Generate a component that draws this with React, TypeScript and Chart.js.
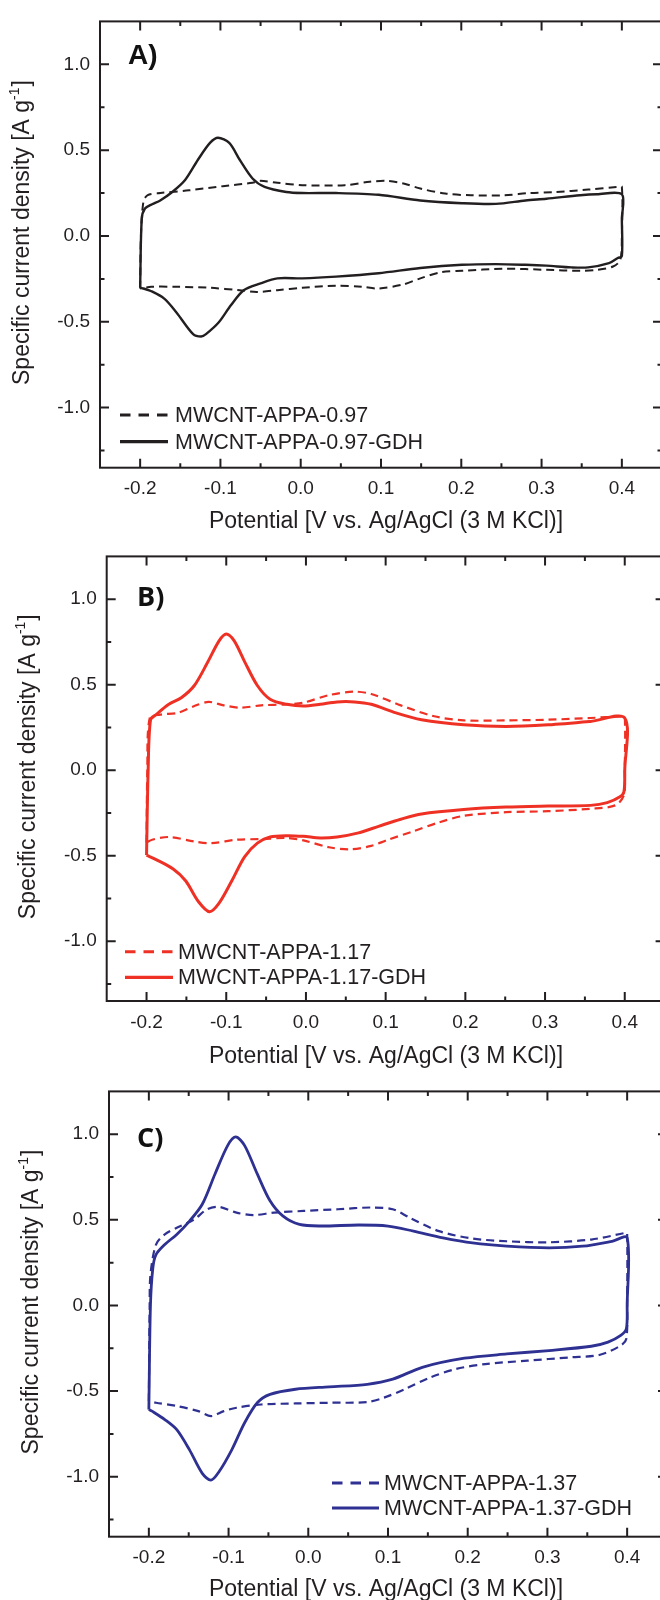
import React, { useEffect, useRef } from "react";
import { Chart, registerables } from "chart.js";
Chart.register(...registerables);

// ---------- axes ----------
const X_MIN = -0.25;
const X_MAX = 0.45;
const Y_MIN = -1.35;
const Y_MAX = 1.25;
const X_MAJOR = [-0.2, -0.1, 0.0, 0.1, 0.2, 0.3, 0.4];
const X_MINOR = [-0.15, -0.05, 0.05, 0.15, 0.25, 0.35];
const Y_MAJOR = [-1.0, -0.5, 0.0, 0.5, 1.0];
const Y_MINOR = [-1.25, -0.75, -0.25, 0.25, 0.75];
const X_TITLE = "Potential [V vs. Ag/AgCl (3 M KCl)]";
const Y_TITLE = "Specific current density [A g";
const Y_TITLE_SUP = "-1";
const Y_TITLE_END = "]";

// ---------- panel A (MWCNT-APPA-0.97) ----------
const A_BARE_LABEL = "MWCNT-APPA-0.97";
const A_BARE_X = [-0.2, -0.199, -0.196, -0.191, -0.175, -0.139, -0.097, -0.06, -0.05, -0.029, 0.002, 0.055, 0.086, 0.107, 0.128, 0.149, 0.18, 0.212, 0.253, 0.285, 0.316, 0.358, 0.395, 0.4,
  0.4, 0.398, 0.389, 0.369, 0.348, 0.306, 0.253, 0.201, 0.175, 0.149, 0.128, 0.097, 0.076, 0.044, 0.002, -0.029, -0.055, -0.076, -0.113, -0.155, -0.186, -0.2];
const A_BARE_Y = [-0.306, 0.0, 0.197, 0.237, 0.25, 0.266, 0.29, 0.31, 0.321, 0.31, 0.296, 0.296, 0.316, 0.321, 0.306, 0.276, 0.247, 0.237, 0.237, 0.25, 0.256, 0.27, 0.286, 0.286,
  0.0, -0.14, -0.178, -0.197, -0.203, -0.197, -0.191, -0.203, -0.211, -0.247, -0.282, -0.306, -0.296, -0.29, -0.302, -0.316, -0.326, -0.316, -0.302, -0.296, -0.296, -0.306];
const A_GDH_LABEL = "MWCNT-APPA-0.97-GDH";
const A_GDH_X = [-0.2, -0.198, -0.194, -0.185, -0.175, -0.16, -0.144, -0.128, -0.113, -0.103, -0.089, -0.076, -0.06, -0.045, -0.018, 0.002, 0.044, 0.097, 0.149, 0.201, 0.243, 0.28, 0.306, 0.348, 0.369, 0.4,
  0.4, 0.4, 0.395, 0.384, 0.358, 0.337, 0.306, 0.28, 0.243, 0.201, 0.149, 0.097, 0.044, 0.002, -0.029, -0.05, -0.071, -0.087, -0.102, -0.118, -0.124, -0.134, -0.155, -0.17, -0.186, -0.196, -0.2];
const A_GDH_Y = [-0.3, 0.1, 0.16, 0.185, 0.207, 0.256, 0.326, 0.444, 0.542, 0.572, 0.542, 0.444, 0.335, 0.286, 0.256, 0.25, 0.25, 0.24, 0.207, 0.191, 0.187, 0.207, 0.217, 0.237, 0.243, 0.243,
  0.1, -0.118, -0.128, -0.158, -0.183, -0.183, -0.173, -0.168, -0.164, -0.168, -0.187, -0.217, -0.237, -0.247, -0.247, -0.276, -0.316, -0.404, -0.503, -0.572, -0.586, -0.572, -0.444, -0.365, -0.322, -0.306, -0.3];

// ---------- panel B (MWCNT-APPA-1.17) ----------
const B_BARE_LABEL = "MWCNT-APPA-1.17";
const B_BARE_X = [-0.2, -0.199, -0.196, -0.183, -0.161, -0.14, -0.122, -0.103, -0.082, -0.056, -0.024, -0.003, 0.029, 0.061, 0.082, 0.119, 0.161, 0.198, 0.251, 0.304, 0.357, 0.396, 0.4,
  0.4, 0.399, 0.388, 0.357, 0.304, 0.251, 0.198, 0.166, 0.135, 0.103, 0.082, 0.055, 0.029, -0.003, -0.024, -0.056, -0.087, -0.119, -0.14, -0.172, -0.193, -0.2];
const B_BARE_Y = [-0.423, 0.0, 0.305, 0.325, 0.335, 0.375, 0.399, 0.379, 0.365, 0.379, 0.385, 0.395, 0.439, 0.459, 0.445, 0.379, 0.315, 0.291, 0.291, 0.295, 0.305, 0.315, 0.315,
  0.0, -0.146, -0.206, -0.226, -0.24, -0.246, -0.267, -0.307, -0.357, -0.407, -0.443, -0.463, -0.451, -0.411, -0.397, -0.403, -0.407, -0.427, -0.417, -0.391, -0.407, -0.423];
const B_GDH_LABEL = "MWCNT-APPA-1.17-GDH";
const B_GDH_X = [-0.2, -0.198, -0.195, -0.188, -0.172, -0.156, -0.14, -0.124, -0.109, -0.1, -0.09, -0.077, -0.061, -0.045, -0.024, -0.003, 0.018, 0.039, 0.061, 0.082, 0.113, 0.145, 0.198, 0.251, 0.304, 0.357, 0.4,
  0.4, 0.399, 0.394, 0.378, 0.357, 0.304, 0.251, 0.198, 0.145, 0.119, 0.092, 0.066, 0.039, 0.018, -0.003, -0.024, -0.045, -0.061, -0.077, -0.093, -0.109, -0.121, -0.135, -0.151, -0.167, -0.188, -0.2];
const B_GDH_Y = [-0.497, 0.0, 0.295, 0.325, 0.385, 0.425, 0.495, 0.625, 0.756, 0.796, 0.756, 0.635, 0.495, 0.415, 0.385, 0.375, 0.385, 0.399, 0.399, 0.385, 0.335, 0.295, 0.265, 0.255, 0.265, 0.285, 0.305,
  0.0, -0.126, -0.156, -0.19, -0.206, -0.21, -0.216, -0.23, -0.256, -0.287, -0.327, -0.367, -0.391, -0.397, -0.387, -0.383, -0.391, -0.427, -0.507, -0.647, -0.778, -0.828, -0.768, -0.647, -0.577, -0.523, -0.497];

// ---------- panel C (MWCNT-APPA-1.37) ----------
const C_BARE_LABEL = "MWCNT-APPA-1.37";
const C_BARE_X = [-0.2, -0.199, -0.198, -0.191, -0.18, -0.165, -0.143, -0.127, -0.112, -0.09, -0.069, -0.043, -0.006, 0.037, 0.079, 0.106, 0.127, 0.164, 0.206, 0.249, 0.302, 0.355, 0.398, 0.4,
  0.4, 0.399, 0.392, 0.365, 0.328, 0.275, 0.222, 0.185, 0.153, 0.121, 0.095, 0.074, 0.026, -0.016, -0.059, -0.09, -0.106, -0.122, -0.138, -0.165, -0.191, -0.2];
const C_BARE_Y = [-0.558, 0.0, 0.179, 0.356, 0.415, 0.454, 0.503, 0.562, 0.576, 0.542, 0.528, 0.542, 0.552, 0.562, 0.572, 0.562, 0.513, 0.434, 0.391, 0.375, 0.369, 0.385, 0.424, 0.424,
  0.0, -0.194, -0.234, -0.289, -0.303, -0.322, -0.342, -0.371, -0.42, -0.489, -0.538, -0.564, -0.568, -0.572, -0.578, -0.597, -0.617, -0.646, -0.617, -0.587, -0.568, -0.558];
const C_GDH_LABEL = "MWCNT-APPA-1.37-GDH";
const C_GDH_X = [-0.2, -0.198, -0.195, -0.191, -0.18, -0.165, -0.149, -0.133, -0.117, -0.101, -0.091, -0.08, -0.064, -0.048, -0.032, -0.011, 0.016, 0.063, 0.1, 0.132, 0.169, 0.206, 0.249, 0.302, 0.344, 0.381, 0.4,
  0.4, 0.399, 0.392, 0.376, 0.355, 0.302, 0.249, 0.196, 0.143, 0.106, 0.074, 0.026, -0.016, -0.048, -0.064, -0.08, -0.096, -0.112, -0.122, -0.133, -0.149, -0.165, -0.18, -0.196, -0.2];
const C_GDH_Y = [-0.607, 0.0, 0.218, 0.297, 0.356, 0.415, 0.493, 0.591, 0.768, 0.935, 0.984, 0.935, 0.768, 0.611, 0.523, 0.473, 0.464, 0.47, 0.464, 0.434, 0.395, 0.365, 0.346, 0.336, 0.346, 0.375, 0.395,
  0.0, -0.136, -0.175, -0.214, -0.238, -0.263, -0.283, -0.308, -0.361, -0.43, -0.46, -0.475, -0.489, -0.519, -0.568, -0.686, -0.843, -0.971, -1.02, -0.98, -0.843, -0.725, -0.666, -0.617, -0.607];

// ---------- styling / layout ----------
const INK = "#231f20";
const FONT = '"Liberation Sans", Arial, Helvetica, sans-serif';
const CANVAS_W = 690;

type Panel = {
  key: string;
  offsetTop: number;
  height: number;
  area: { left: number; top: number; right: number; bottom: number };
  color: string;
  label: string;
  labelFont: string;
  labelPos: [number, number];
  bareX: number[]; bareY: number[]; bareLabel: string;
  gdhX: number[]; gdhY: number[]; gdhLabel: string;
  solidWidth: number;
  dashWidth: number;
  legend: { x: number; w: number; textX: number; rows: [number, number] };
  xTitleDy: number;
};

const PANELS: Panel[] = [
  {
    key: "A", offsetTop: 0, height: 535,
    area: { left: 100, top: 15, right: 662, bottom: 467.7 },
    color: "#231f20", label: "A)", labelFont: `bold 28px ${FONT}`, labelPos: [128, 63.5],
    bareX: A_BARE_X, bareY: A_BARE_Y, bareLabel: A_BARE_LABEL,
    gdhX: A_GDH_X, gdhY: A_GDH_Y, gdhLabel: A_GDH_LABEL,
    solidWidth: 2.4, dashWidth: 2.0,
    legend: { x: 120, w: 48, textX: 175, rows: [415, 441.7] },
    xTitleDy: 60.5,
  },
  {
    key: "B", offsetTop: 535, height: 535,
    area: { left: 106.7, top: 19, right: 664.6, bottom: 466 },
    color: "#ee3124", label: "B)", labelFont: `bold 27px "Open Sans", ${FONT}`, labelPos: [137, 70.7],
    bareX: B_BARE_X, bareY: B_BARE_Y, bareLabel: B_BARE_LABEL,
    gdhX: B_GDH_X, gdhY: B_GDH_Y, gdhLabel: B_GDH_LABEL,
    solidWidth: 3.0, dashWidth: 2.2,
    legend: { x: 125, w: 48, textX: 178, rows: [416.7, 442.3] },
    xTitleDy: 62,
  },
  {
    key: "C", offsetTop: 1070, height: 530,
    area: { left: 109, top: 18.3, right: 667, bottom: 466.7 },
    color: "#2e3192", label: "C)", labelFont: `bold 27px "Open Sans", ${FONT}`, labelPos: [137, 76.5],
    bareX: C_BARE_X, bareY: C_BARE_Y, bareLabel: C_BARE_LABEL,
    gdhX: C_GDH_X, gdhY: C_GDH_Y, gdhLabel: C_GDH_LABEL,
    solidWidth: 2.8, dashWidth: 2.2,
    legend: { x: 332, w: 47, textX: 384, rows: [413, 438] },
    xTitleDy: 59.5,
  },
];

function toPoints(xs: number[], ys: number[]) {
  return xs.map((x, i) => ({ x, y: ys[i] }));
}

function makeDecor(p: Panel) {
  return {
    id: "decor" + p.key,
    afterDraw(chart: any) {
      const { ctx, chartArea } = chart;
      const { left, right, top, bottom } = chartArea;
      const xs = chart.scales.x;
      const ys = chart.scales.y;
      ctx.save();
      // frame
      ctx.strokeStyle = INK;
      ctx.lineWidth = 2;
      ctx.strokeRect(left, top, right - left, bottom - top);
      // inward ticks
      const tick = (vals: number[], len: number) => {
        vals.forEach((v) => {
          const px = xs.getPixelForValue(v);
          ctx.beginPath();
          ctx.moveTo(px, bottom); ctx.lineTo(px, bottom - len);
          ctx.moveTo(px, top); ctx.lineTo(px, top + len);
          ctx.stroke();
        });
      };
      const tickY = (vals: number[], len: number) => {
        vals.forEach((v) => {
          const py = ys.getPixelForValue(v);
          ctx.beginPath();
          ctx.moveTo(left, py); ctx.lineTo(left + len, py);
          ctx.moveTo(right, py); ctx.lineTo(right - len, py);
          ctx.stroke();
        });
      };
      tick(X_MAJOR, 9); tick(X_MINOR, 4.5);
      tickY(Y_MAJOR, 9); tickY(Y_MINOR, 4.5);

      // panel label
      ctx.fillStyle = "#111";
      ctx.font = p.labelFont;
      ctx.textAlign = "left";
      ctx.textBaseline = "alphabetic";
      ctx.fillText(p.label, p.labelPos[0], p.labelPos[1]);

      // legend
      const ds = chart.data.datasets;
      ds.forEach((d: any, i: number) => {
        const ry = p.legend.rows[i];
        ctx.save();
        ctx.strokeStyle = d.borderColor;
        ctx.lineWidth = i === 0 ? 3 : 3.2;
        ctx.setLineDash(i === 0 ? [10.5, 8] : []);
        ctx.beginPath();
        ctx.moveTo(p.legend.x, ry);
        ctx.lineTo(p.legend.x + p.legend.w, ry);
        ctx.stroke();
        ctx.restore();
        ctx.fillStyle = INK;
        ctx.font = `21.5px ${FONT}`;
        ctx.textAlign = "left";
        ctx.textBaseline = "middle";
        ctx.fillText(d.label, p.legend.textX, ry + 1);
      });

      // x title
      ctx.fillStyle = INK;
      ctx.font = `23px ${FONT}`;
      ctx.textAlign = "center";
      ctx.textBaseline = "alphabetic";
      ctx.fillText(X_TITLE, 386, bottom + p.xTitleDy);

      // y title (rotated, with superscript)
      const mainFont = `23px ${FONT}`;
      const supFont = `14px ${FONT}`;
      ctx.font = mainFont;
      const w1 = ctx.measureText(Y_TITLE).width;
      const w3 = ctx.measureText(Y_TITLE_END).width;
      ctx.font = supFont;
      const w2 = ctx.measureText(Y_TITLE_SUP).width;
      const total = w1 + w2 + w3 + 1;
      const cy = (top + bottom) / 2 - 12;
      ctx.translate(left - 71.5, cy);
      ctx.rotate(-Math.PI / 2);
      ctx.textAlign = "left";
      ctx.textBaseline = "alphabetic";
      let cx = -total / 2;
      ctx.font = mainFont;
      ctx.fillText(Y_TITLE, cx, 0);
      cx += w1;
      ctx.font = supFont;
      ctx.fillText(Y_TITLE_SUP, cx, -10);
      cx += w2 + 1;
      ctx.font = mainFont;
      ctx.fillText(Y_TITLE_END, cx, 0);
      ctx.restore();
    },
  };
}

function PanelChart({ p }: { p: Panel }) {
  const ref = useRef<HTMLCanvasElement | null>(null);
  useEffect(() => {
    if (!ref.current) return;
    const chart = new Chart(ref.current, {
      type: "scatter",
      data: {
        datasets: [
          {
            label: p.bareLabel,
            data: toPoints(p.bareX, p.bareY),
            showLine: true,
            borderColor: p.color,
            borderWidth: p.dashWidth,
            borderDash: [8, 5],
            pointRadius: 0,
            tension: 0.3,
            fill: false,
          },
          {
            label: p.gdhLabel,
            data: toPoints(p.gdhX, p.gdhY),
            showLine: true,
            borderColor: p.color,
            borderWidth: p.solidWidth,
            pointRadius: 0,
            tension: 0.3,
            fill: false,
          },
        ],
      },
      options: {
        responsive: false,
        animation: false,
        devicePixelRatio: 1,
        layout: {
          padding: { top: p.area.top, right: CANVAS_W - p.area.right, left: 0, bottom: 0 },
        },
        plugins: { legend: { display: false }, tooltip: { enabled: false } },
        scales: {
          x: {
            type: "linear",
            min: X_MIN,
            max: X_MAX,
            grid: { display: false, drawTicks: false, tickLength: 0 },
            border: { display: false },
            afterBuildTicks: (s: any) => { s.ticks = X_MAJOR.map((v) => ({ value: v })); },
            afterFit: (s: any) => { s.height = p.height - p.area.bottom; },
            ticks: {
              autoSkip: false,
              maxRotation: 0,
              padding: 10,
              color: INK,
              font: { family: FONT, size: 19 },
              callback: (v: any) => Number(v).toFixed(1),
            },
          },
          y: {
            type: "linear",
            min: Y_MIN,
            max: Y_MAX,
            grid: { display: false, drawTicks: false, tickLength: 0 },
            border: { display: false },
            afterBuildTicks: (s: any) => { s.ticks = Y_MAJOR.map((v) => ({ value: v })); },
            afterFit: (s: any) => { s.width = p.area.left; },
            ticks: {
              autoSkip: false,
              padding: 10,
              color: INK,
              font: { family: FONT, size: 19 },
              callback: (v: any) => Number(v).toFixed(1),
            },
          },
        },
      },
      plugins: [makeDecor(p)],
    } as any);
    return () => chart.destroy();
  }, [p]);
  return (
    <canvas
      ref={ref}
      width={CANVAS_W}
      height={p.height}
      style={{ position: "absolute", left: 0, top: p.offsetTop, width: CANVAS_W, height: p.height }}
    />
  );
}

export default function App() {
  return (
    <div
      style={{
        position: "absolute",
        left: 0,
        top: 0,
        width: 660,
        height: 1600,
        overflow: "hidden",
        background: "#ffffff",
      }}
    >
      {PANELS.map((p) => (
        <PanelChart key={p.key} p={p} />
      ))}
    </div>
  );
}
